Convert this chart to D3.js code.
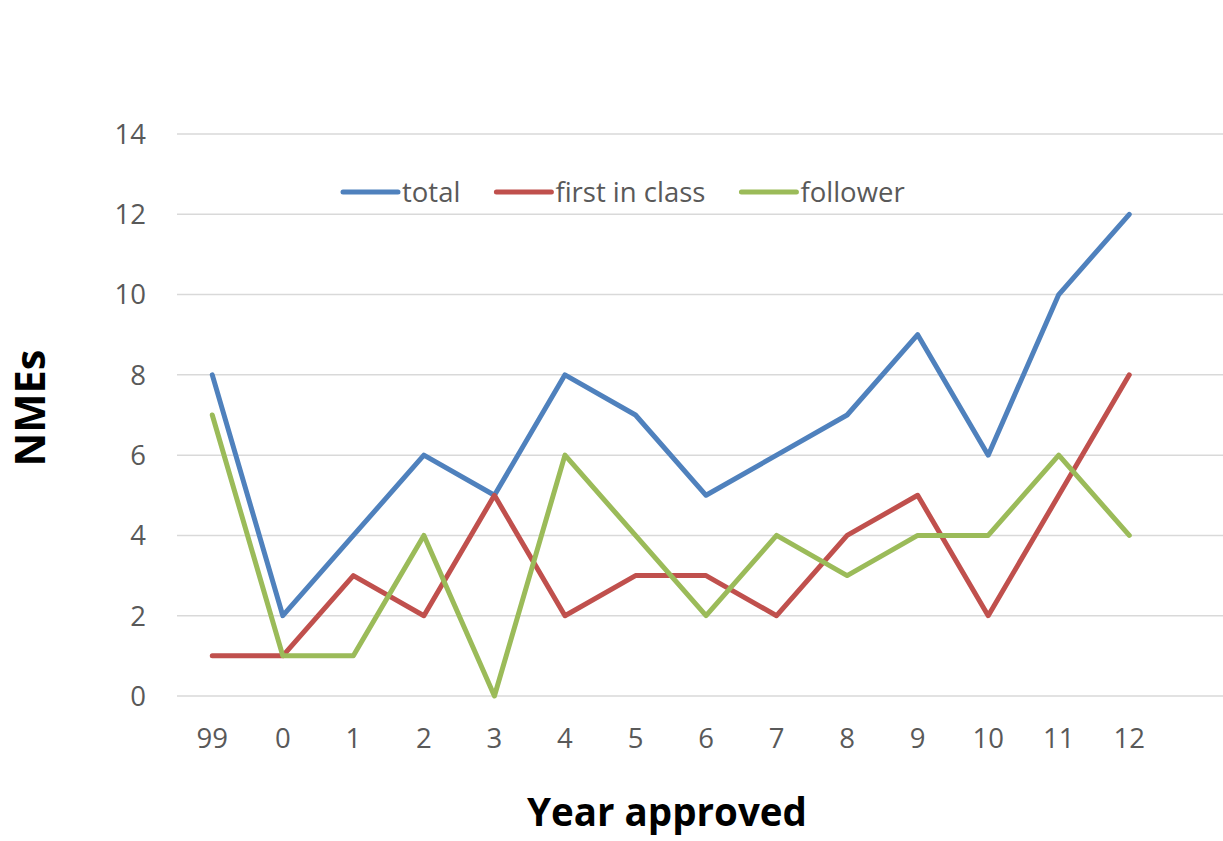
<!DOCTYPE html>
<html>
<head>
<meta charset="utf-8">
<script src="https://cdn.jsdelivr.net/npm/d3@7"></script>
<style>
  html, body { margin: 0; padding: 0; background: #fff; }
  svg { display: block; }
  text { font-family: "Open Sans", "Liberation Sans", sans-serif; }
</style>
</head>
<body>
<svg id="chart" width="1223" height="841"></svg>
<script>
// Year of approval (two-digit), NMEs per year
const years = ["99", "0", "1", "2", "3", "4", "5", "6", "7", "8", "9", "10", "11", "12"];
const total = [8, 2, 4, 6, 5, 8, 7, 5, 6, 7, 9, 6, 10, 12];
const firstInClass = [1, 1, 3, 2, 5, 2, 3, 3, 2, 4, 5, 2, 5, 8];
const follower = [7, 1, 1, 4, 0, 6, 4, 2, 4, 3, 4, 4, 6, 4];
const yTicks = [0, 2, 4, 6, 8, 10, 12, 14];

const seriesNames = ["total", "first in class", "follower"];
const seriesColors = ["#4f81bd", "#c0504d", "#9bbb59"];
const seriesValues = [total, firstInClass, follower];

const W = 1223, H = 841;
const plotLeft = 177, plotTop = 134, plotBottom = 696;
const step = 70.54;
const labelSize = 27.5;

const svg = d3.select("#chart");

const x = d3.scaleBand()
  .domain(years)
  .range([plotLeft, plotLeft + step * years.length]);
const y = d3.scaleLinear().domain([0, 14]).range([plotBottom, plotTop]);

// horizontal gridlines
svg.append("g")
  .selectAll("line")
  .data(yTicks)
  .join("line")
  .attr("x1", plotLeft)
  .attr("x2", W)
  .attr("y1", d => y(d))
  .attr("y2", d => y(d))
  .attr("stroke", "#d9d9d9")
  .attr("stroke-width", 1.5);

// y tick labels
svg.append("g")
  .selectAll("text")
  .data(yTicks)
  .join("text")
  .attr("x", 146)
  .attr("y", d => y(d))
  .attr("dy", "0.36em")
  .attr("text-anchor", "end")
  .attr("fill", "#595959")
  .attr("font-size", labelSize)
  .text(d => d);

// x tick labels
svg.append("g")
  .selectAll("text")
  .data(years)
  .join("text")
  .attr("x", d => x(d) + x.bandwidth() / 2)
  .attr("y", 738)
  .attr("dy", "0.36em")
  .attr("text-anchor", "middle")
  .attr("fill", "#595959")
  .attr("font-size", labelSize)
  .text(d => d);

// series lines
const line = d3.line()
  .x((d, i) => x(years[i]) + x.bandwidth() / 2)
  .y(d => y(d));

svg.append("g")
  .selectAll("path")
  .data(seriesValues)
  .join("path")
  .attr("d", d => line(d))
  .attr("fill", "none")
  .attr("stroke", (d, i) => seriesColors[i])
  .attr("stroke-width", 5)
  .attr("stroke-linejoin", "round")
  .attr("stroke-linecap", "round");

// legend
const legend = svg.append("g");
let lx = 343;
const ly = 192;
seriesNames.forEach((name, i) => {
  legend.append("line")
    .attr("x1", lx).attr("x2", lx + 55)
    .attr("y1", ly).attr("y2", ly)
    .attr("stroke", seriesColors[i])
    .attr("stroke-width", 5)
    .attr("stroke-linecap", "round");
  const t = legend.append("text")
    .attr("x", lx + 59)
    .attr("y", ly)
    .attr("dy", "0.36em")
    .attr("fill", "#595959")
    .attr("font-size", labelSize)
    .text(name);
  lx += 59 + t.node().getComputedTextLength() + 36;
});

// axis titles
svg.append("text")
  .attr("x", 667)
  .attr("y", 826)
  .attr("text-anchor", "middle")
  .attr("font-weight", "bold")
  .attr("font-size", 38.5)
  .attr("fill", "#000")
  .text("Year approved");

svg.append("text")
  .attr("transform", "translate(45,408) rotate(-90)")
  .attr("text-anchor", "middle")
  .attr("font-weight", "bold")
  .attr("font-size", 41.5)
  .attr("fill", "#000")
  .text("NMEs");
</script>
</body>
</html>
